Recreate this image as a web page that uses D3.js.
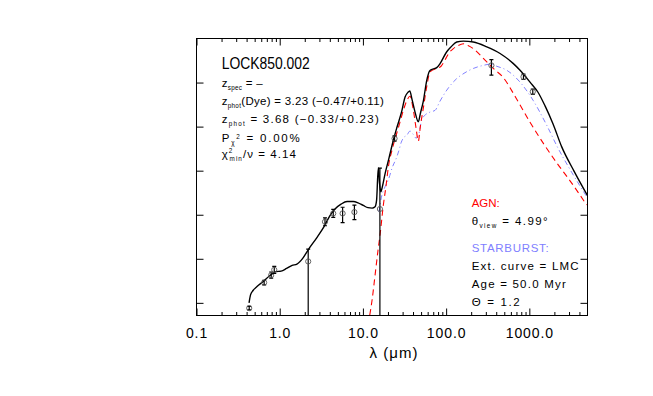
<!DOCTYPE html>
<html>
<head>
<meta charset="utf-8">
<script src="https://cdn.jsdelivr.net/npm/d3@7"></script>
<style>
  body { margin: 0; background: #fff; }
  svg { display: block; font-family: 'Liberation Sans', Arial, sans-serif; }
</style>
</head>
<body>
<div class="graph"></div>
<script>
// Model components: wavelength (micron) and log10 of the flux
const totalLambda = [0.428, 0.446, 0.478, 0.533, 0.630, 0.764, 0.903, 1.04, 1.21, 1.41, 1.61, 1.89, 2.21, 2.77, 3.41, 4.02, 4.62, 5.46, 6.44, 7.67, 8.74, 10.1, 11.5, 12.9, 14.0, 14.6, 15.1, 15.4, 15.8, 16.4, 17.0, 18.5, 20.6, 23.2, 25.7, 29.3, 32.1, 34.8, 36.6, 38.9, 42.3, 46.3, 49.2, 53.2, 58.5, 63.1, 67.6, 77.1, 84.5, 101.7, 114.5, 134, 161, 212, 308, 445, 643, 773, 1019, 1271, 1545, 1928, 2451, 3443, 5012];
const totalLogF = [0.0, 0.18, 0.28, 0.37, 0.48, 0.62, 0.71, 0.72, 0.78, 0.85, 0.88, 1.01, 1.21, 1.47, 1.73, 1.98, 2.13, 2.24, 2.30, 2.30, 2.27, 2.21, 2.16, 2.15, 2.18, 2.33, 2.90, 3.06, 2.74, 2.52, 2.61, 2.94, 3.29, 3.69, 3.99, 4.35, 4.67, 4.78, 4.81, 4.62, 4.33, 4.11, 4.31, 4.58, 5.05, 5.26, 5.30, 5.34, 5.43, 5.70, 5.81, 5.92, 5.94, 5.92, 5.81, 5.66, 5.43, 5.28, 5.01, 4.78, 4.47, 4.06, 3.54, 2.99, 2.43];

const agnLambda = [11.5, 12.9, 14.0, 15.2, 16.1, 17.6, 19.0, 20.2, 22.4, 25.5, 27.9, 30.6, 33.9, 36.8, 40.0, 43.5, 46.3, 49.2, 53.2, 58.9, 64.0, 77.1, 86.9, 96.9, 108, 122, 139, 161, 183, 212, 280, 369, 483, 692, 1019, 1462, 2094, 3085, 4898];
const agnLogF = [-0.50, 0.07, 0.63, 1.20, 1.56, 2.22, 2.67, 3.08, 3.47, 3.85, 4.10, 4.37, 4.60, 4.69, 4.42, 3.97, 3.67, 4.03, 4.42, 4.94, 5.24, 5.32, 5.37, 5.51, 5.67, 5.77, 5.84, 5.88, 5.84, 5.77, 5.55, 5.32, 5.12, 4.65, 4.10, 3.63, 3.20, 2.77, 2.22];

const sbLambda = [15.6, 16.7, 18.4, 20.2, 22.4, 25.5, 27.2, 28.7, 30.6, 33.9, 36.8, 40.0, 43.5, 46.6, 50.9, 55.7, 64.0, 73.6, 84.5, 102, 134, 164, 212, 280, 347, 406, 535, 773, 1107, 1589, 2213, 3258, 5012];
const sbLogF = [2.06, 2.40, 2.63, 2.79, 3.06, 3.31, 3.47, 3.63, 3.74, 3.81, 3.90, 3.83, 3.74, 3.81, 4.15, 4.26, 4.33, 4.37, 4.58, 4.83, 5.09, 5.21, 5.32, 5.39, 5.42, 5.37, 5.28, 5.01, 4.60, 4.06, 3.51, 2.95, 2.38];

// Photometry
const photLambda = [0.43, 0.65, 0.79, 0.86, 2.2, 3.5, 4.4, 5.7, 7.9, 16, 24, 350, 850, 1100];
const photLogF = [-0.12, 0.46, 0.63, 0.75, 0.94, 1.84, 2.03, 2.03, 2.06, 2.13, 3.73, 5.39, 5.13, 4.79];
const photErrUp = [0.04, 0.05, 0.07, 0.08, 0.28, 0.09, 0.09, 0.14, 0.16, 0.93, 0.06, 0.13, 0.06, 0.06];
const photErrDn = [0.04, 0.05, 0.07, 0.08, null, 0.09, 0.09, 0.21, 0.17, null, 0.06, 0.22, 0.06, 0.06]; // null = down to axis

const xTicks = [0.1, 1, 10, 100, 1000];
const yTicks = [1, 10, 100, 1e3, 1e4, 1e5];

const infoLines = [
    [['z'], ['spec', 'sub'], [' = \u2013']],
    [['z'], ['phot', 'sub'], ['(Dye) = 3.23 (\u22120.47/+0.11)']],
    [['z'], ['phot', 'sub'], [' = 3.68 (\u22120.33/+0.23)']],
    [['P'], ['\u03c7', 'sub'], ['2', 'subsup'], [' = 0.00%']],
    [['\u03c7'], ['2', 'sup'], ['min', 'subback'], ['/\u03bd = 4.14']]
];
const infoWidths = [41, 162, 157, 78, 78];
const infoBaselines = [86.5, 104.5, 123, 141.5, 158];

const fitLines = [
    { parts: [['AGN:']], color: '#ff0000', w: 28 },
    { parts: [['\u03b8'], ['view', 'sub'], [' = 4.99\u00b0']], color: '#000', w: 76 },
    { parts: [['STARBURST:']], color: '#8080ff', w: 77 },
    { parts: [['Ext. curve = LMC']], color: '#000', w: 107 },
    { parts: [['Age = 50.0 Myr']], color: '#000', w: 94 },
    { parts: [['\u0398 = 1.2']], color: '#000', w: 48 }
];
const fitBaselines = [207.3, 225, 251.7, 270, 288.3, 306.3];

// Chart dimensions
const margin = { top: 38.5, right: 65.5, bottom: 80.5, left: 196.5 };
const width = 653 - margin.left - margin.right;
const height = 396 - margin.top - margin.bottom;

const root = d3.select('.graph')
    .append('svg')
    .attr('width', 653)
    .attr('height', 396);

root.append('rect').attr('width', 653).attr('height', 396).attr('fill', '#fff');

const svg = root.append('g')
    .attr('transform', `translate(${margin.left},${margin.top})`);

// Scales
const xScale = d3.scaleLog().domain([0.1, 5000]).range([0, width]);
const yScale = d3.scaleLog().domain([10 ** -0.287, 1e6]).range([height, 0]);

svg.append('clipPath').attr('id', 'plot-clip')
    .append('rect').attr('width', width).attr('height', height);

// Minor x ticks
const minorTicks = [];
xTicks.forEach(t => {
    for (let k = 2; k <= 9; k++) if (t * k < 5000) minorTicks.push(t * k);
});

function styleAxis(g) {
    g.select('.domain').remove();
    g.selectAll('line').attr('stroke', '#000');
}

// Axes
svg.append('g')
    .attr('transform', `translate(0,${height})`)
    .call(d3.axisBottom(xScale).tickValues(xTicks).tickSize(-7).tickSizeOuter(0)
        .tickPadding(12.8).tickFormat(d3.format('.1f')))
    .call(styleAxis)
    .call(g => g.selectAll('text')
        .attr('font-family', 'Liberation Sans, Arial, sans-serif')
        .attr('font-size', 14).attr('letter-spacing', 0.9).attr('fill', '#000'));

svg.append('g')
    .attr('transform', `translate(0,${height})`)
    .call(d3.axisBottom(xScale).tickValues(minorTicks).tickSize(-3.5).tickSizeOuter(0).tickFormat(''))
    .call(styleAxis);

svg.append('g')
    .call(d3.axisTop(xScale).tickValues(xTicks).tickSize(-7).tickSizeOuter(0).tickFormat(''))
    .call(styleAxis);

svg.append('g')
    .call(d3.axisTop(xScale).tickValues(minorTicks).tickSize(-3.5).tickSizeOuter(0).tickFormat(''))
    .call(styleAxis);

svg.append('g')
    .call(d3.axisLeft(yScale).tickValues(yTicks).tickSize(-7).tickSizeOuter(0).tickFormat(''))
    .call(styleAxis);

svg.append('g')
    .attr('transform', `translate(${width},0)`)
    .call(d3.axisRight(yScale).tickValues(yTicks).tickSize(-7).tickSizeOuter(0).tickFormat(''))
    .call(styleAxis);

svg.append('rect')
    .attr('width', width).attr('height', height)
    .attr('fill', 'none').attr('stroke', '#000').attr('stroke-width', 1);

// x title
root.append('text')
    .attr('x', 394).attr('y', 358.3)
    .attr('text-anchor', 'middle')
    .attr('font-size', 15).attr('letter-spacing', 1)
    .text('\u03bb (\u03bcm)');

// Model curves
const line = d3.line()
    .x(d => xScale(d[0]))
    .y(d => yScale(10 ** d[1]))
    .curve(d3.curveMonotoneX);

const plot = svg.append('g').attr('clip-path', 'url(#plot-clip)');

plot.append('path')
    .datum(d3.zip(sbLambda, sbLogF))
    .attr('d', line)
    .attr('fill', 'none').attr('stroke', '#8080ff').attr('stroke-width', 1)
    .attr('stroke-dasharray', '5,3,1,3');

plot.append('path')
    .datum(d3.zip(agnLambda, agnLogF))
    .attr('d', line)
    .attr('fill', 'none').attr('stroke', '#ff0000').attr('stroke-width', 1.1)
    .attr('stroke-dasharray', '6,4');

plot.append('path')
    .datum(d3.zip(totalLambda, totalLogF))
    .attr('d', line)
    .attr('fill', 'none').attr('stroke', '#000').attr('stroke-width', 1.4);

// Photometry with error bars
const phot = photLambda.map((l, i) => ({
    l, f: photLogF[i], up: photLogF[i] + photErrUp[i],
    dn: photErrDn[i] === null ? null : photLogF[i] - photErrDn[i]
}));

const bars = plot.selectAll('.err').data(phot).enter().append('g').attr('class', 'err');
bars.append('line')
    .attr('x1', d => xScale(d.l)).attr('x2', d => xScale(d.l))
    .attr('y1', d => yScale(10 ** d.up))
    .attr('y2', d => d.dn === null ? height : yScale(10 ** d.dn))
    .attr('stroke', '#000').attr('stroke-width', 1.2);
bars.append('line')
    .attr('x1', d => xScale(d.l) - 2).attr('x2', d => xScale(d.l) + 2)
    .attr('y1', d => yScale(10 ** d.up)).attr('y2', d => yScale(10 ** d.up))
    .attr('stroke', '#000').attr('stroke-width', 1.2);
bars.filter(d => d.dn !== null).append('line')
    .attr('x1', d => xScale(d.l) - 2).attr('x2', d => xScale(d.l) + 2)
    .attr('y1', d => yScale(10 ** d.dn)).attr('y2', d => yScale(10 ** d.dn))
    .attr('stroke', '#000').attr('stroke-width', 1.2);
bars.append('circle')
    .attr('cx', d => xScale(d.l)).attr('cy', d => yScale(10 ** d.f))
    .attr('r', 2.6)
    .attr('fill', 'none').attr('stroke', '#555').attr('stroke-width', 0.9);

// Text with sub/superscripts; letter spacing is fitted to the target width
function richText(px, py, parts, size, color, len) {
    const t = root.append('text')
        .attr('x', px).attr('y', py)
        .attr('font-size', size).attr('fill', color);
    let shift = 0;
    let chars = 0;
    parts.forEach(([s, kind]) => {
        let target = 0, dx = 0;
        if (kind === 'sub') target = 3;
        if (kind === 'sup') target = -5;
        if (kind === 'subsup') target = -2.5;
        if (kind === 'subback') { target = 3; dx = -3.8; }
        const ts = t.append('tspan').attr('dy', target - shift).text(s);
        if (dx) ts.attr('dx', dx);
        if (kind) ts.attr('font-size', size * 0.55);
        shift = target;
        chars += s.length;
    });
    const natural = t.node().getComputedTextLength();
    const ls = (len - natural) / Math.max(chars - 1, 1);
    t.attr('letter-spacing', ls.toFixed(2));
    return t;
}

root.append('text')
    .attr('x', 221.7).attr('y', 68.5)
    .attr('font-size', 16)
    .attr('textLength', 88).attr('lengthAdjust', 'spacingAndGlyphs')
    .text('LOCK850.002');

infoLines.forEach((parts, i) => richText(221.7, infoBaselines[i], parts, 11.5, '#000', infoWidths[i]));

fitLines.forEach((d, i) => richText(471.7, fitBaselines[i], d.parts, 11.5, d.color, d.w));
</script>
</body>
</html>
